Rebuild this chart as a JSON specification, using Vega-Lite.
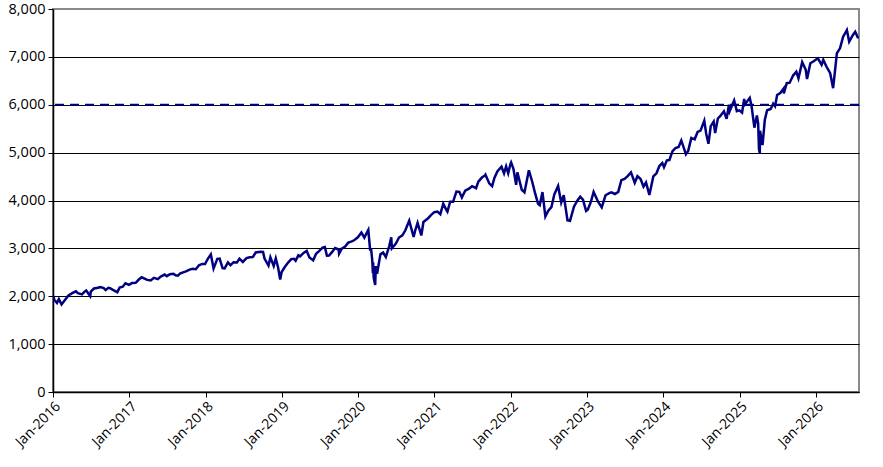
{
  "$schema": "https://vega.github.io/schema/vega-lite/v6.json",
  "width": 806,
  "height": 383,
  "autosize": {"type": "none"},
  "padding": {"left": 53, "top": 9, "right": 24, "bottom": 75},
  "background": "white",
  "config": {
    "font": "Open Sans",
    "view": {"stroke": "#8a8a8a", "strokeWidth": 2},
    "axis": {"labelColor": "black", "labelFont": "Open Sans", "titleColor": "black"}
  },
  "datasets": {
    "series": [
      {"date": "2016-01-01", "value": 2012},
      {"date": "2016-01-08", "value": 1922}, {"date": "2016-01-20", "value": 1859}, {"date": "2016-01-29", "value": 1940},
      {"date": "2016-02-11", "value": 1829}, {"date": "2016-02-29", "value": 1932}, {"date": "2016-03-15", "value": 2015},
      {"date": "2016-03-31", "value": 2060}, {"date": "2016-04-20", "value": 2102}, {"date": "2016-04-29", "value": 2065},
      {"date": "2016-05-19", "value": 2040}, {"date": "2016-05-31", "value": 2097}, {"date": "2016-06-08", "value": 2119},
      {"date": "2016-06-27", "value": 2000}, {"date": "2016-06-30", "value": 2099}, {"date": "2016-07-15", "value": 2162},
      {"date": "2016-07-29", "value": 2174}, {"date": "2016-08-15", "value": 2190}, {"date": "2016-08-31", "value": 2171},
      {"date": "2016-09-09", "value": 2128}, {"date": "2016-09-22", "value": 2177}, {"date": "2016-09-30", "value": 2168},
      {"date": "2016-10-14", "value": 2133}, {"date": "2016-11-04", "value": 2085}, {"date": "2016-11-15", "value": 2180},
      {"date": "2016-11-30", "value": 2199}, {"date": "2016-12-13", "value": 2271}, {"date": "2016-12-30", "value": 2239},
      {"date": "2017-01-13", "value": 2275}, {"date": "2017-01-31", "value": 2279}, {"date": "2017-02-15", "value": 2349},
      {"date": "2017-03-01", "value": 2396}, {"date": "2017-03-27", "value": 2342}, {"date": "2017-04-13", "value": 2329},
      {"date": "2017-04-28", "value": 2384}, {"date": "2017-05-17", "value": 2357}, {"date": "2017-05-31", "value": 2412},
      {"date": "2017-06-19", "value": 2453}, {"date": "2017-06-29", "value": 2419}, {"date": "2017-07-14", "value": 2459},
      {"date": "2017-07-31", "value": 2470}, {"date": "2017-08-10", "value": 2438}, {"date": "2017-08-21", "value": 2428},
      {"date": "2017-08-31", "value": 2472}, {"date": "2017-09-15", "value": 2500}, {"date": "2017-09-29", "value": 2519},
      {"date": "2017-10-16", "value": 2557}, {"date": "2017-10-31", "value": 2575}, {"date": "2017-11-15", "value": 2565},
      {"date": "2017-11-30", "value": 2648}, {"date": "2017-12-15", "value": 2675}, {"date": "2017-12-29", "value": 2674},
      {"date": "2018-01-12", "value": 2786}, {"date": "2018-01-26", "value": 2873}, {"date": "2018-02-08", "value": 2581},
      {"date": "2018-02-26", "value": 2780}, {"date": "2018-03-09", "value": 2786}, {"date": "2018-03-23", "value": 2588},
      {"date": "2018-04-02", "value": 2582}, {"date": "2018-04-18", "value": 2708}, {"date": "2018-04-30", "value": 2648},
      {"date": "2018-05-15", "value": 2711}, {"date": "2018-05-31", "value": 2705}, {"date": "2018-06-12", "value": 2786},
      {"date": "2018-06-28", "value": 2716}, {"date": "2018-07-16", "value": 2798}, {"date": "2018-07-31", "value": 2816},
      {"date": "2018-08-15", "value": 2819}, {"date": "2018-08-29", "value": 2914}, {"date": "2018-09-20", "value": 2931},
      {"date": "2018-10-03", "value": 2926}, {"date": "2018-10-10", "value": 2786}, {"date": "2018-10-29", "value": 2641},
      {"date": "2018-11-07", "value": 2814}, {"date": "2018-11-23", "value": 2633}, {"date": "2018-12-03", "value": 2790},
      {"date": "2018-12-14", "value": 2600}, {"date": "2018-12-24", "value": 2351}, {"date": "2018-12-31", "value": 2507},
      {"date": "2019-01-15", "value": 2610}, {"date": "2019-01-31", "value": 2704}, {"date": "2019-02-15", "value": 2776},
      {"date": "2019-02-28", "value": 2784}, {"date": "2019-03-08", "value": 2743}, {"date": "2019-03-21", "value": 2855},
      {"date": "2019-03-29", "value": 2834}, {"date": "2019-04-15", "value": 2905}, {"date": "2019-04-30", "value": 2946},
      {"date": "2019-05-13", "value": 2812}, {"date": "2019-05-31", "value": 2752}, {"date": "2019-06-14", "value": 2887},
      {"date": "2019-06-28", "value": 2942}, {"date": "2019-07-15", "value": 3014}, {"date": "2019-07-26", "value": 3026},
      {"date": "2019-08-05", "value": 2845}, {"date": "2019-08-15", "value": 2848}, {"date": "2019-08-30", "value": 2926},
      {"date": "2019-09-13", "value": 3007}, {"date": "2019-09-30", "value": 2977}, {"date": "2019-10-02", "value": 2888},
      {"date": "2019-10-15", "value": 2996}, {"date": "2019-10-31", "value": 3038}, {"date": "2019-11-15", "value": 3120},
      {"date": "2019-11-29", "value": 3141}, {"date": "2019-12-13", "value": 3169}, {"date": "2019-12-31", "value": 3231},
      {"date": "2020-01-17", "value": 3330}, {"date": "2020-01-31", "value": 3226}, {"date": "2020-02-19", "value": 3386},
      {"date": "2020-02-28", "value": 2954}, {"date": "2020-03-03", "value": 3003}, {"date": "2020-03-09", "value": 2747},
      {"date": "2020-03-12", "value": 2481}, {"date": "2020-03-13", "value": 2711}, {"date": "2020-03-16", "value": 2386},
      {"date": "2020-03-23", "value": 2237}, {"date": "2020-03-26", "value": 2630}, {"date": "2020-04-01", "value": 2470},
      {"date": "2020-04-17", "value": 2875}, {"date": "2020-04-30", "value": 2912}, {"date": "2020-05-13", "value": 2820},
      {"date": "2020-05-29", "value": 3044}, {"date": "2020-06-08", "value": 3232}, {"date": "2020-06-11", "value": 3002},
      {"date": "2020-06-30", "value": 3100}, {"date": "2020-07-15", "value": 3227}, {"date": "2020-07-31", "value": 3271},
      {"date": "2020-08-14", "value": 3373}, {"date": "2020-09-02", "value": 3580}, {"date": "2020-09-23", "value": 3237},
      {"date": "2020-09-30", "value": 3363}, {"date": "2020-10-12", "value": 3534}, {"date": "2020-10-30", "value": 3270},
      {"date": "2020-11-09", "value": 3550}, {"date": "2020-11-30", "value": 3622}, {"date": "2020-12-15", "value": 3695},
      {"date": "2020-12-31", "value": 3756},
      {"date": "2021-01-15", "value": 3768}, {"date": "2021-01-29", "value": 3714}, {"date": "2021-02-12", "value": 3934},
      {"date": "2021-02-26", "value": 3811}, {"date": "2021-03-04", "value": 3768}, {"date": "2021-03-17", "value": 3974},
      {"date": "2021-03-31", "value": 3973}, {"date": "2021-04-16", "value": 4185}, {"date": "2021-04-30", "value": 4181},
      {"date": "2021-05-12", "value": 4063}, {"date": "2021-05-28", "value": 4204}, {"date": "2021-06-15", "value": 4246},
      {"date": "2021-06-30", "value": 4298}, {"date": "2021-07-19", "value": 4258}, {"date": "2021-07-30", "value": 4395},
      {"date": "2021-08-16", "value": 4479}, {"date": "2021-08-31", "value": 4523}, {"date": "2021-09-02", "value": 4537},
      {"date": "2021-09-20", "value": 4358}, {"date": "2021-10-04", "value": 4300}, {"date": "2021-10-15", "value": 4471},
      {"date": "2021-10-29", "value": 4605}, {"date": "2021-11-18", "value": 4705}, {"date": "2021-11-30", "value": 4567},
      {"date": "2021-12-10", "value": 4712}, {"date": "2021-12-20", "value": 4568}, {"date": "2021-12-31", "value": 4766},
      {"date": "2022-01-03", "value": 4797}, {"date": "2022-01-14", "value": 4663}, {"date": "2022-01-27", "value": 4326},
      {"date": "2022-02-02", "value": 4589}, {"date": "2022-02-23", "value": 4225}, {"date": "2022-03-08", "value": 4170},
      {"date": "2022-03-29", "value": 4632}, {"date": "2022-04-14", "value": 4392}, {"date": "2022-04-29", "value": 4132},
      {"date": "2022-05-12", "value": 3930}, {"date": "2022-05-20", "value": 3901}, {"date": "2022-06-02", "value": 4177},
      {"date": "2022-06-16", "value": 3667}, {"date": "2022-06-30", "value": 3785}, {"date": "2022-07-15", "value": 3863},
      {"date": "2022-07-29", "value": 4130}, {"date": "2022-08-16", "value": 4305}, {"date": "2022-08-31", "value": 3955},
      {"date": "2022-09-12", "value": 4110}, {"date": "2022-09-30", "value": 3586}, {"date": "2022-10-12", "value": 3577},
      {"date": "2022-10-31", "value": 3872}, {"date": "2022-11-15", "value": 3992}, {"date": "2022-11-30", "value": 4080},
      {"date": "2022-12-13", "value": 4019}, {"date": "2022-12-28", "value": 3783},
      {"date": "2023-01-05", "value": 3808}, {"date": "2023-01-20", "value": 3972}, {"date": "2023-02-02", "value": 4179},
      {"date": "2023-02-24", "value": 3970}, {"date": "2023-03-13", "value": 3855}, {"date": "2023-03-31", "value": 4109},
      {"date": "2023-04-18", "value": 4155}, {"date": "2023-04-28", "value": 4169}, {"date": "2023-05-15", "value": 4136},
      {"date": "2023-05-31", "value": 4180}, {"date": "2023-06-15", "value": 4426}, {"date": "2023-06-30", "value": 4450},
      {"date": "2023-07-14", "value": 4505}, {"date": "2023-07-31", "value": 4589}, {"date": "2023-08-18", "value": 4370},
      {"date": "2023-08-31", "value": 4508}, {"date": "2023-09-15", "value": 4450}, {"date": "2023-09-29", "value": 4288},
      {"date": "2023-10-11", "value": 4377}, {"date": "2023-10-27", "value": 4117}, {"date": "2023-11-15", "value": 4502},
      {"date": "2023-11-30", "value": 4568}, {"date": "2023-12-14", "value": 4720}, {"date": "2023-12-28", "value": 4783},
      {"date": "2024-01-05", "value": 4697}, {"date": "2024-01-19", "value": 4840}, {"date": "2024-01-31", "value": 4846},
      {"date": "2024-02-15", "value": 5030}, {"date": "2024-02-29", "value": 5096}, {"date": "2024-03-15", "value": 5117},
      {"date": "2024-03-28", "value": 5254}, {"date": "2024-04-19", "value": 4967}, {"date": "2024-04-30", "value": 5036},
      {"date": "2024-05-15", "value": 5308}, {"date": "2024-05-31", "value": 5278}, {"date": "2024-06-14", "value": 5432},
      {"date": "2024-06-28", "value": 5460}, {"date": "2024-07-16", "value": 5667}, {"date": "2024-07-25", "value": 5400},
      {"date": "2024-08-05", "value": 5186}, {"date": "2024-08-16", "value": 5554}, {"date": "2024-08-30", "value": 5648},
      {"date": "2024-09-06", "value": 5408}, {"date": "2024-09-19", "value": 5713}, {"date": "2024-09-30", "value": 5762},
      {"date": "2024-10-18", "value": 5864}, {"date": "2024-10-31", "value": 5705}, {"date": "2024-11-11", "value": 6001},
      {"date": "2024-11-15", "value": 5870}, {"date": "2024-12-06", "value": 6090}, {"date": "2024-12-19", "value": 5867},
      {"date": "2024-12-31", "value": 5882},
      {"date": "2025-01-13", "value": 5836}, {"date": "2025-01-23", "value": 6119}, {"date": "2025-01-27", "value": 6012},
      {"date": "2025-02-19", "value": 6144}, {"date": "2025-02-28", "value": 5955}, {"date": "2025-03-13", "value": 5522},
      {"date": "2025-03-25", "value": 5777}, {"date": "2025-03-31", "value": 5612}, {"date": "2025-04-04", "value": 5074},
      {"date": "2025-04-08", "value": 4983}, {"date": "2025-04-09", "value": 5457}, {"date": "2025-04-21", "value": 5158},
      {"date": "2025-05-02", "value": 5687}, {"date": "2025-05-13", "value": 5886}, {"date": "2025-05-30", "value": 5912},
      {"date": "2025-06-11", "value": 6022}, {"date": "2025-06-20", "value": 5968}, {"date": "2025-06-30", "value": 6205},
      {"date": "2025-07-15", "value": 6244}, {"date": "2025-07-31", "value": 6339}, {"date": "2025-08-01", "value": 6238},
      {"date": "2025-08-15", "value": 6450}, {"date": "2025-08-29", "value": 6460}, {"date": "2025-09-15", "value": 6615},
      {"date": "2025-09-30", "value": 6688}, {"date": "2025-10-10", "value": 6552}, {"date": "2025-10-28", "value": 6890},
      {"date": "2025-11-14", "value": 6730}, {"date": "2025-11-20", "value": 6538}, {"date": "2025-12-06", "value": 6867},
      {"date": "2025-12-20", "value": 6902},
      {"date": "2026-01-11", "value": 6971}, {"date": "2026-01-29", "value": 6834}, {"date": "2026-02-06", "value": 6937},
      {"date": "2026-02-21", "value": 6798}, {"date": "2026-03-11", "value": 6659}, {"date": "2026-03-25", "value": 6347},
      {"date": "2026-04-01", "value": 6625}, {"date": "2026-04-12", "value": 7075}, {"date": "2026-04-27", "value": 7179},
      {"date": "2026-05-12", "value": 7422}, {"date": "2026-05-30", "value": 7561}, {"date": "2026-06-10", "value": 7318},
      {"date": "2026-06-28", "value": 7457}, {"date": "2026-07-09", "value": 7526}, {"date": "2026-07-23", "value": 7387}
    ],
    "level": [{"threshold": 6000}]
  },
  "layer": [
    {
      "data": {"name": "series"},
      "mark": {"type": "line", "color": "#000080", "strokeWidth": 2.5, "clip": true},
      "encoding": {
        "x": {
          "field": "date",
          "type": "temporal",
          "title": null,
          "scale": {"domain": [{"year": 2016, "month": 1, "date": 1}, {"year": 2026, "month": 7, "date": 27}], "nice": false},
          "axis": {
            "values": [
              {"year": 2016, "month": 1, "date": 1}, {"year": 2017, "month": 1, "date": 1}, {"year": 2018, "month": 1, "date": 1},
              {"year": 2019, "month": 1, "date": 1}, {"year": 2020, "month": 1, "date": 1}, {"year": 2021, "month": 1, "date": 1},
              {"year": 2022, "month": 1, "date": 1}, {"year": 2023, "month": 1, "date": 1}, {"year": 2024, "month": 1, "date": 1},
              {"year": 2025, "month": 1, "date": 1}, {"year": 2026, "month": 1, "date": 1}
            ],
            "format": "%b-%Y",
            "labelAngle": -45,
            "labelFontSize": 14,
            "labelPadding": 2,
            "grid": false,
            "domainColor": "black",
            "domainWidth": 1.5,
            "tickColor": "black",
            "tickSize": 5,
            "labelOverlap": false
          }
        },
        "y": {
          "field": "value",
          "type": "quantitative",
          "title": null,
          "scale": {"domain": [0, 8000], "nice": false},
          "axis": {
            "values": [0, 1000, 2000, 3000, 4000, 5000, 6000, 7000, 8000],
            "format": ",.0f",
            "labelFontSize": 14.5,
            "labelPadding": 3,
            "domainColor": "black",
            "domainWidth": 1.5,
            "tickColor": "black",
            "tickSize": 5,
            "grid": true,
            "gridColor": {"condition": {"test": "datum.value === 8000", "value": "#8a8a8a"}, "value": "black"},
            "gridWidth": 1
          }
        }
      }
    },
    {
      "data": {"name": "level"},
      "mark": {"type": "rule", "color": "#000080", "strokeWidth": 2, "strokeDash": [9, 6]},
      "encoding": {
        "y": {"field": "threshold", "type": "quantitative"}
      }
    }
  ]
}
